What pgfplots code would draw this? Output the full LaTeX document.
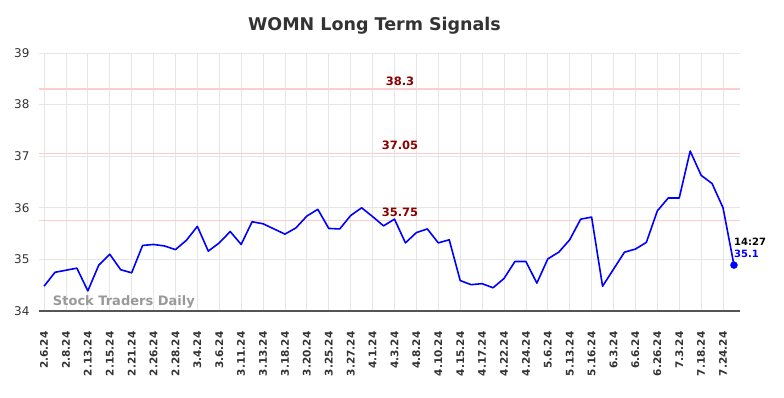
\documentclass[border=0pt]{standalone}
\usepackage{fontspec}
\setmainfont{DejaVu Sans}
\usepackage{pgfplots}
\pgfplotsset{compat=1.18}
\definecolor{gridc}{HTML}{E6E6E6}
\definecolor{redline}{HTML}{FFCCCC}
\definecolor{annot}{HTML}{8B0000}
\definecolor{axisc}{HTML}{555555}
\definecolor{txt}{HTML}{333333}
\begin{document}
\begin{tikzpicture}[x=1pt,y=1pt]
\useasboundingbox (0,0) rectangle (784,398);
\node[font=\fontsize{17.5}{20}\selectfont\bfseries, text=txt] at (374.5,372) {WOMN Long Term Signals};
\begin{axis}[
  at={(39pt,87pt)}, anchor=south west,
  width=701pt, height=258pt, scale only axis,
  xmin=-0.46, xmax=63.55, ymin=34, ymax=39,
  axis line style={draw=none},
  axis x line*=bottom,
  axis y line*=left,
  xtick={0,2,...,62},
  xticklabels={2.6.24,2.8.24,2.13.24,2.15.24,2.21.24,2.26.24,2.28.24,3.4.24,3.6.24,3.11.24,3.13.24,3.18.24,3.20.24,3.25.24,3.27.24,4.1.24,4.3.24,4.8.24,4.10.24,4.15.24,4.17.24,4.22.24,4.24.24,5.6.24,5.13.24,5.16.24,6.3.24,6.6.24,6.26.24,7.3.24,7.18.24,7.24.24},
  ytick={34,35,36,37,38,39},
  major tick length=0pt,
  grid=major,
  major grid style={gridc, line width=0.8pt},
  xticklabel style={rotate=90, anchor=east, font=\fontsize{10.5}{12}\selectfont\bfseries, text=txt},
  xticklabel shift=17pt,
  yticklabel style={font=\fontsize{12}{14}\selectfont, text=txt},
  yticklabel shift=6pt,
  /pgf/number format/assume math mode=true,
  clip=false,
]
\addplot[redline, line width=1.6pt, forget plot] coordinates {(-0.46,38.3) (63.55,38.3)};
\addplot[redline, line width=1.6pt, forget plot] coordinates {(-0.46,37.05) (63.55,37.05)};
\addplot[redline, line width=1.6pt, forget plot] coordinates {(-0.46,35.75) (63.55,35.75)};
\draw[axisc, line width=1.5pt] (axis cs:-0.46,34) -- (axis cs:63.55,34);
\node[font=\fontsize{11.5}{13}\selectfont\bfseries, text=annot] at (axis cs:32.5,38.46) {38.3};
\node[font=\fontsize{11.5}{13}\selectfont\bfseries, text=annot] at (axis cs:32.5,37.21) {37.05};
\node[font=\fontsize{11.5}{13}\selectfont\bfseries, text=annot] at (axis cs:32.5,35.91) {35.75};
\node[font=\fontsize{13}{15}\selectfont\bfseries, text=black!40, anchor=west, inner sep=0pt] at (axis cs:0.8,34.17) {Stock Traders Daily};
\addplot[blue, line width=1.6pt, line join=round] coordinates {
(0,34.48) (1,34.75) (2,34.79) (3,34.83) (4,34.39) (5,34.89) (6,35.10) (7,34.80)
(8,34.74) (9,35.27) (10,35.29) (11,35.26) (12,35.19) (13,35.37) (14,35.64) (15,35.16)
(16,35.32) (17,35.54) (18,35.29) (19,35.73) (20,35.69) (21,35.59) (22,35.49) (23,35.61)
(24,35.84) (25,35.97) (26,35.60) (27,35.59) (28,35.85) (29,36.00) (30,35.83) (31,35.65)
(32,35.78) (33,35.32) (34,35.52) (35,35.59) (36,35.32) (37,35.38) (38,34.59) (39,34.51)
(40,34.53) (41,34.45) (42,34.63) (43,34.96) (44,34.96) (45,34.54) (46,35.01) (47,35.14)
(48,35.38) (49,35.78) (50,35.82) (51,34.48) (52,34.81) (53,35.14) (54,35.20) (55,35.33)
(56,35.94) (57,36.19) (58,36.19) (59,37.10) (60,36.63) (61,36.47) (62,36.00) (63,34.89)
};
\addplot[blue, only marks, mark=*, mark size=3.5pt] coordinates {(63,34.89)};
\node[font=\fontsize{10}{12}\selectfont\bfseries, text=black, anchor=west, inner sep=0pt] at (axis cs:63,35.35) {14:27};
\node[font=\fontsize{10}{12}\selectfont\bfseries, text=blue, anchor=west, inner sep=0pt] at (axis cs:63,35.1) {35.1};
\end{axis}
\end{tikzpicture}
\end{document}
